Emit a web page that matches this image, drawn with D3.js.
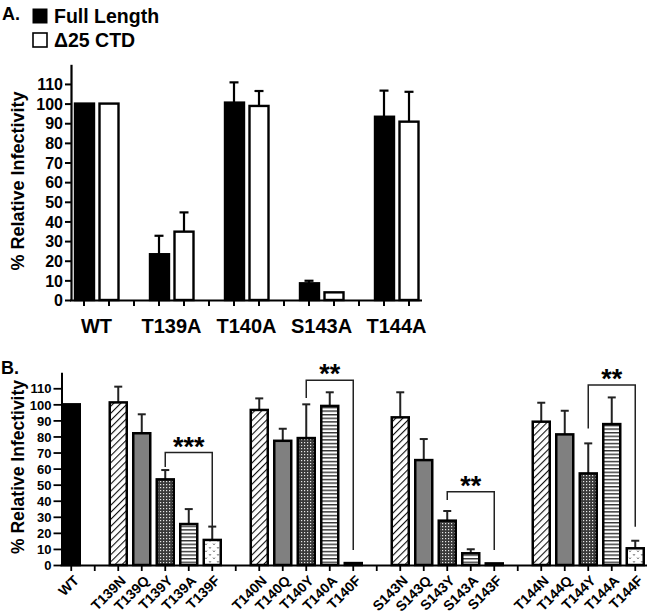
<!DOCTYPE html>
<html><head><meta charset="utf-8">
<script src="https://cdn.jsdelivr.net/npm/d3@7"></script>
<style>
body{margin:0;background:#fff;}
svg{display:block;font-family:"Liberation Sans",Arial,sans-serif;font-weight:bold;}
</style></head>
<body>
<svg id="chart" width="650" height="614"></svg>
<script>
// ---------- Panel A data ----------
const groupsA = ["WT","T139A","T140A","S143A","T144A"];
const fullLength = [100, 23.3, 100.5, 8.5, 93.3];
const fullLengthErr = [0, 9.4, 10.3, 1.3, 13.3];
const delta25 = [100, 34.8, 98.8, 3.9, 90.8];
const delta25Err = [0, 9.8, 7.6, 0, 15.2];
const seriesNamesA = ["Full Length", "\u039425 CTD"];
const ticksA = [0,10,20,30,40,50,60,70,80,90,100,110];

// ---------- Panel B data ----------
const categoriesB = ["WT","gap1","T139N","T139Q","T139Y","T139A","T139F","gap2",
  "T140N","T140Q","T140Y","T140A","T140F","gap3",
  "S143N","S143Q","S143Y","S143A","S143F","gap4",
  "T144N","T144Q","T144Y","T144A","T144F"];
const mutantsB = ["WT","T139N","T139Q","T139Y","T139A","T139F",
  "T140N","T140Q","T140Y","T140A","T140F",
  "S143N","S143Q","S143Y","S143A","S143F",
  "T144N","T144Q","T144Y","T144A","T144F"];
const valuesB = [100, 101.2, 82, 53.3, 25.5, 15.6,
  96.5, 77.3, 79, 99, 1.2,
  91.9, 65.3, 27.6, 7.3, 1,
  89.2, 81.3, 57, 87.7, 10.4];
const errB = [0, 9.8, 11.8, 5.8, 9.3, 8.3,
  7.2, 7.5, 21, 8.5, 0,
  15.6, 13.1, 6, 2.5, 0,
  11.8, 14.7, 18.7, 16.6, 4.7];
// brackets: [from, to, top, leftLegEnd, rightLegEnd, label]
const bracketsB = [
  ["T139Y","T139F",70,61,24,"***"],
  ["T140Y","T140F",115,104,9.3,"**"],
  ["S143Y","S143F",45.6,40.4,9.3,"**"],
  ["T144Y","T144F",112,85,23.8,"**"]
];
const ticksB = [0,10,20,30,40,50,60,70,80,90,100,110];

const svg = d3.select("#chart");
const defs = svg.append("defs");

// patterns
const pDiag = defs.append("pattern").attr("id","diag").attr("patternUnits","userSpaceOnUse")
  .attr("width",5).attr("height",5).attr("patternTransform","rotate(45)");
pDiag.append("rect").attr("width",5).attr("height",5).attr("fill","#fff");
pDiag.append("line").attr("x1",0).attr("y1",0).attr("x2",0).attr("y2",5).attr("stroke","#111").attr("stroke-width",2.2);

const pCheck = defs.append("pattern").attr("id","check").attr("patternUnits","userSpaceOnUse")
  .attr("width",3).attr("height",3);
pCheck.append("rect").attr("width",3).attr("height",3).attr("fill","#3a3a3a");
pCheck.append("rect").attr("x",1).attr("y",1).attr("width",1.2).attr("height",1.2).attr("fill","#e8e8e8");

const pHor = defs.append("pattern").attr("id","hor").attr("patternUnits","userSpaceOnUse")
  .attr("width",4).attr("height",3.6);
pHor.append("rect").attr("width",4).attr("height",3.6).attr("fill","#fff");
pHor.append("rect").attr("y",0).attr("width",4).attr("height",1.4).attr("fill","#333");

const pDot = defs.append("pattern").attr("id","dots").attr("patternUnits","userSpaceOnUse")
  .attr("width",8).attr("height",7);
pDot.append("rect").attr("width",8).attr("height",7).attr("fill","#fff");
pDot.append("path").attr("d","M1,1 L2,2.5 L3,1 M5,4.5 L6,6 L7,4.5").attr("stroke","#777").attr("stroke-width",0.9).attr("fill","none");

const fillFor = name => {
  if (name === "WT") return "#000";
  const s = name.slice(-1);
  return {N:"url(#diag)", Q:"#808080", Y:"url(#check)", A:"url(#hor)", F:"url(#dots)"}[s];
};

// ================= PANEL A =================
const slotsA = [];
groupsA.forEach((g,i)=>{ if(i>0) slotsA.push("gapA"+i); slotsA.push(g+"|0"); slotsA.push(g+"|1"); });
const xA = d3.scaleBand().domain(slotsA).range([71.5, 421.5]);
const yA = d3.scaleLinear().domain([0,120]).range([300, 64.3]);
const gA = svg.append("g");

const yAxisA = d3.axisLeft(yA).tickValues(ticksA).tickSize(6).tickSizeOuter(0).tickPadding(2);
const yaA = gA.append("g").attr("transform","translate(71,0)").call(yAxisA);
yaA.select(".domain").attr("stroke","#000").attr("stroke-width",2.2);
yaA.selectAll(".tick line").attr("stroke","#000").attr("stroke-width",2);
yaA.selectAll(".tick text").attr("font-size",16).attr("font-weight","bold").attr("fill","#000")
  .attr("font-family","Liberation Sans, Arial, sans-serif").attr("dy","0.36em");

const xAxisA = d3.axisBottom(xA).tickSize(6).tickSizeOuter(0).tickFormat("");
const xaA = gA.append("g").attr("transform","translate(0,300)").call(xAxisA);
xaA.select(".domain").attr("stroke","#000").attr("stroke-width",2.2).attr("d","M70,0.5H422");
xaA.selectAll(".tick line").attr("stroke","#000").attr("stroke-width",2);

const barWA = 19;
const dataA = [];
groupsA.forEach((g,i)=>{
  dataA.push({slot:g+"|0", v:fullLength[i], e:fullLengthErr[i], s:0});
  dataA.push({slot:g+"|1", v:delta25[i], e:delta25Err[i], s:1});
});
gA.selectAll(".errA").data(dataA.filter(d=>d.e>0)).join("g").each(function(d){
  const cx = xA(d.slot)+xA.bandwidth()/2;
  const g = d3.select(this);
  g.append("line").attr("x1",cx).attr("x2",cx).attr("y1",yA(d.v)).attr("y2",yA(d.v+d.e)).attr("stroke","#000").attr("stroke-width",2.2);
  g.append("line").attr("x1",cx-4.5).attr("x2",cx+4.5).attr("y1",yA(d.v+d.e)).attr("y2",yA(d.v+d.e)).attr("stroke","#000").attr("stroke-width",2.2);
});
gA.selectAll(".barA").data(dataA).join("rect")
  .attr("x",d=>xA(d.slot)+xA.bandwidth()/2-barWA/2+ (d.s===0?0.5:0))
  .attr("width",barWA)
  .attr("y",d=>yA(d.v))
  .attr("height",d=>yA(0)-yA(d.v))
  .attr("fill",d=>d.s===0?"#000":"#fff")
  .attr("stroke","#000").attr("stroke-width",2.4);

groupsA.forEach(g=>{
  const cx = (xA(g+"|0")+xA(g+"|1")+xA.bandwidth())/2;
  gA.append("text").attr("x",cx).attr("y",333).attr("text-anchor","middle")
    .attr("font-size",20).text(g);
});

gA.append("text").attr("transform","translate(24,181) rotate(-90)").attr("text-anchor","middle")
  .attr("font-size",18).text("% Relative Infectivity");

svg.append("text").attr("x",2).attr("y",20).attr("font-size",18).text("A.");
svg.append("rect").attr("x",32.5).attr("y",8.5).attr("width",15).attr("height",15).attr("fill","#000");
svg.append("text").attr("x",54).attr("y",22.5).attr("font-size",19.5).text(seriesNamesA[0]);
svg.append("rect").attr("x",33).attr("y",33).attr("width",14).attr("height",14).attr("fill","#fff").attr("stroke","#000").attr("stroke-width",1.6);
svg.append("text").attr("x",54).attr("y",47).attr("font-size",19.5).text(seriesNamesA[1]);

// ================= PANEL B =================
const xB = d3.scaleBand().domain(categoriesB).range([59.5, 647]);
const yB = d3.scaleLinear().domain([0,120]).range([565, 372.2]);
const gB = svg.append("g");

const yAxisB = d3.axisLeft(yB).tickValues(ticksB).tickSize(8).tickSizeOuter(0).tickPadding(2);
const yaB = gB.append("g").attr("transform","translate(61.5,0)").call(yAxisB);
yaB.select(".domain").attr("stroke","#000").attr("stroke-width",2);
yaB.selectAll(".tick line").attr("stroke","#000").attr("stroke-width",1.8);
yaB.selectAll(".tick text").attr("font-size",13).attr("font-weight","bold").attr("fill","#000")
  .attr("font-family","Liberation Sans, Arial, sans-serif").attr("dy","0.36em");

const xAxisB = d3.axisBottom(xB).tickSize(6).tickSizeOuter(0).tickFormat("");
const xaB = gB.append("g").attr("transform","translate(0,565)").call(xAxisB);
xaB.select(".domain").attr("stroke","#000").attr("stroke-width",2).attr("d","M60.5,0.5H647");
xaB.selectAll(".tick line").attr("stroke","#000").attr("stroke-width",1.8);

const barWB = 17;
const dataB = mutantsB.map((m,i)=>({name:m, v:valuesB[i], e:errB[i]}));
gB.selectAll(".errB").data(dataB.filter(d=>d.e>0)).join("g").each(function(d){
  const cx = xB(d.name)+xB.bandwidth()/2;
  const g = d3.select(this);
  g.append("line").attr("x1",cx).attr("x2",cx).attr("y1",yB(d.v)).attr("y2",yB(d.v+d.e)).attr("stroke","#222").attr("stroke-width",2);
  g.append("line").attr("x1",cx-4).attr("x2",cx+4).attr("y1",yB(d.v+d.e)).attr("y2",yB(d.v+d.e)).attr("stroke","#222").attr("stroke-width",2);
});
gB.selectAll(".barB").data(dataB).join("rect")
  .attr("x",d=>xB(d.name)+xB.bandwidth()/2-barWB/2)
  .attr("width",barWB)
  .attr("y",d=>yB(d.v))
  .attr("height",d=>Math.max(0.5,yB(0)-yB(d.v)))
  .attr("fill",d=>fillFor(d.name))
  .attr("stroke","#000").attr("stroke-width",2.5);

bracketsB.forEach(b=>{
  const x1 = xB(b[0])+xB.bandwidth()/2, x2 = xB(b[1])+xB.bandwidth()/2;
  gB.append("path").attr("d",`M${x1},${yB(b[3])}V${yB(b[2])}H${x2}V${yB(b[4])}`)
    .attr("fill","none").attr("stroke","#222").attr("stroke-width",1.5);
  gB.append("text").attr("x",(x1+x2)/2).attr("y",yB(b[2])+3).attr("text-anchor","middle")
    .attr("font-size",27).text(b[5]);
});

mutantsB.forEach(m=>{
  const cx = xB(m)+xB.bandwidth()/2;
  gB.append("text").attr("transform",`translate(${cx+5},${578}) rotate(-45)`)
    .attr("text-anchor","end").attr("font-size",14).attr("dy","0.35em").text(m);
});

gB.append("text").attr("transform","translate(24,467) rotate(-90)").attr("text-anchor","middle")
  .attr("font-size",17.5).text("% Relative Infectivity");
svg.append("text").attr("x",1).attr("y",374).attr("font-size",18).text("B.");
</script>
</body></html>
